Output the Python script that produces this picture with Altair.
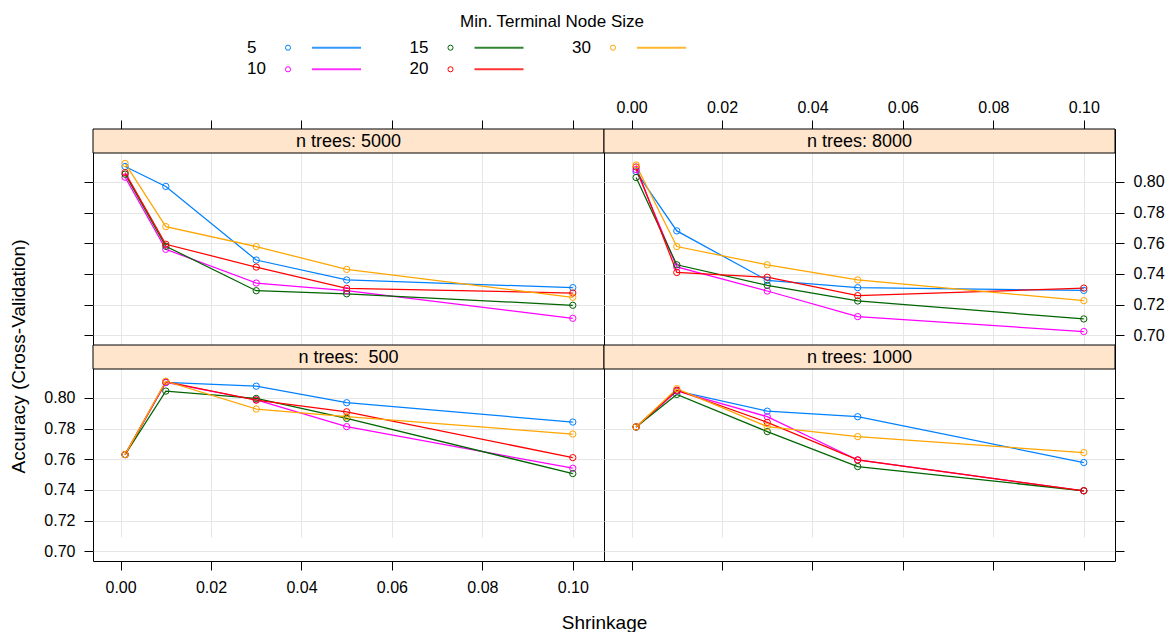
import altair as alt
import pandas as pd

# ---------------- data ----------------
shrinkage = [0.001, 0.01, 0.03, 0.05, 0.1]
node_sizes = [5, 10, 15, 20, 30]
colors = ["#0080ff", "#ff00ff", "#006400", "#ff0000", "#ffa500"]
panel_trees = [5000, 8000, 500, 1000]
strip_labels = ["n trees: 5000", "n trees: 8000", "n trees:\u00a0 500", "n trees: 1000"]

acc_5000 = {
    5: [0.810, 0.797, 0.749, 0.736, 0.731],
    10: [0.803, 0.756, 0.734, 0.729, 0.711],
    15: [0.805, 0.758, 0.729, 0.727, 0.7195],
    20: [0.806, 0.7593, 0.7444, 0.7305, 0.7275],
    30: [0.812, 0.7708, 0.7578, 0.7429, 0.7247],
}
acc_8000 = {
    5: [0.8067, 0.768, 0.7357, 0.731, 0.7292],
    10: [0.808, 0.7445, 0.7288, 0.7121, 0.7024],
    15: [0.8028, 0.7459, 0.7325, 0.7223, 0.7106],
    20: [0.8097, 0.7409, 0.7378, 0.7258, 0.7307],
    30: [0.811, 0.7578, 0.7459, 0.736, 0.7225],
}
acc_500 = {
    5: [0.763, 0.810, 0.8076, 0.7968, 0.7842],
    10: [0.763, 0.810, 0.7987, 0.7812, 0.7541],
    15: [0.763, 0.8044, 0.7996, 0.7866, 0.7506],
    20: [0.763, 0.8105, 0.7985, 0.7909, 0.761],
    30: [0.763, 0.8108, 0.7927, 0.7877, 0.7764],
}
acc_1000 = {
    5: [0.781, 0.8045, 0.7913, 0.7877, 0.7578],
    10: [0.781, 0.8045, 0.7877, 0.7595, 0.7394],
    15: [0.781, 0.8022, 0.778, 0.7552, 0.7394],
    20: [0.781, 0.805, 0.784, 0.7595, 0.7394],
    30: [0.781, 0.806, 0.7812, 0.7747, 0.7643],
}
x_ticks = [0.0, 0.02, 0.04, 0.06, 0.08, 0.10]
y_ticks = [0.70, 0.72, 0.74, 0.76, 0.78, 0.80]
legend_title = "Min. Terminal Node Size"
x_title = "Shrinkage"
y_title = "Accuracy (Cross-Validation)"

acc_by_panel = {5000: acc_5000, 8000: acc_8000, 500: acc_500, 1000: acc_1000}

rows = []
for n in panel_trees:
    for s in node_sizes:
        for xv, yv in zip(shrinkage, acc_by_panel[n][s]):
            rows.append({"ntrees": n, "size": s, "shrinkage": xv, "accuracy": yv})
df = pd.DataFrame(rows)

# ---------------- layout constants ----------------
W = 511
H = 216
STRIP = 24
FONT = "Liberation Sans"

color_enc = alt.Color("size:N", scale=alt.Scale(domain=node_sizes, range=colors), legend=None)


def make_panel(n, label, xorient, xlabels, yorient, ylabels, xtitle=False, ytitle=False):
    xaxis_kw = dict(orient=xorient, values=x_ticks, format=".2f", labels=xlabels,
                    labelPadding=5 if xorient == "top" else 9, title=None)
    if xtitle:
        xaxis_kw.update(title=x_title, titleX=W, titleY=61, titleBaseline="middle",
                        titleAlign="center", titleFontSize=19)
    yaxis_kw = dict(orient=yorient, values=y_ticks, format=".2f", labels=ylabels,
                    labelPadding=9, title=None)
    if ytitle:
        yaxis_kw.update(title=y_title, titleX=-75, titleY=11, titleBaseline="middle",
                        titleAlign="center", titleAngle=270, titleFontSize=19)

    x_enc = alt.X("shrinkage:Q",
                  scale=alt.Scale(domain=[-0.0061, 0.1069], nice=False, zero=False),
                  axis=alt.Axis(**xaxis_kw))
    y_enc = alt.Y("accuracy:Q",
                  scale=alt.Scale(domain=[0.6936, 0.8188], range=[H, STRIP], nice=False, zero=False),
                  axis=alt.Axis(**yaxis_kw))

    base = alt.Chart(df[df["ntrees"] == n])
    lines = base.mark_line(strokeWidth=1.25).encode(x=x_enc, y=y_enc, color=color_enc)
    points = base.mark_point(shape="circle", filled=False, size=40, strokeWidth=1, opacity=1).encode(
        x=x_enc, y=y_enc, color=color_enc)

    strip_df = pd.DataFrame({"label": [label]})
    strip_rect = alt.Chart(strip_df).mark_rect(fill="#ffe5cc", stroke="black", strokeWidth=1).encode(
        x=alt.value(0), x2=alt.value(W), y=alt.value(0), y2=alt.value(STRIP))
    strip_text = alt.Chart(strip_df).mark_text(font=FONT, fontSize=18, color="black", baseline="middle").encode(
        x=alt.value(W / 2), y=alt.value(STRIP / 2 + 1), text="label:N")
    return alt.layer(lines, points, strip_rect, strip_text)


# ---------------- custom lattice-style key ----------------
legend_df = pd.DataFrame({
    "size": node_sizes,
    "col": [i // 2 for i in range(len(node_sizes))],
    "row": [i % 2 for i in range(len(node_sizes))],
})
px_scale = alt.Scale(domain=[0, 1000], range=[0, 1000], nice=False, zero=False)
py_scale = alt.Scale(domain=[-200, 0], range=[-200, 0], nice=False, zero=False)
leg = alt.Chart(legend_df).transform_calculate(
    lx="154 + 162.5 * datum.col",
    px="195 + 162.5 * datum.col",
    rx1="219 + 162.5 * datum.col",
    rx2="268 + 162.5 * datum.col",
    ly="-81.3 + 21.6 * datum.row",
)
leg_text = leg.mark_text(font=FONT, fontSize=17, align="left", baseline="middle", color="black").encode(
    x=alt.X("lx:Q", scale=px_scale, axis=None), y=alt.Y("ly:Q", scale=py_scale, axis=None), text="size:N")
leg_pts = leg.mark_point(shape="circle", filled=False, size=26, strokeWidth=1, opacity=1).encode(
    x=alt.X("px:Q", scale=px_scale, axis=None), y=alt.Y("ly:Q", scale=py_scale, axis=None), color=color_enc)
leg_rules = leg.mark_rule(strokeWidth=2, opacity=0.8).encode(
    x=alt.X("rx1:Q", scale=px_scale, axis=None), x2="rx2:Q",
    y=alt.Y("ly:Q", scale=py_scale, axis=None), color=color_enc)
leg_title = alt.Chart(pd.DataFrame({"t": [legend_title]})).mark_text(
    font=FONT, fontSize=17, baseline="middle", color="black").encode(
    x=alt.value(459), y=alt.value(-107), text="t:N")
legend_layer = alt.layer(leg_text, leg_pts, leg_rules, leg_title)

p5000 = make_panel(5000, strip_labels[0], "top", False, "left", False)
p5000 = alt.layer(p5000, legend_layer).resolve_scale(x="independent", y="independent")
p8000 = make_panel(8000, strip_labels[1], "top", True, "right", True)
p500 = make_panel(500, strip_labels[2], "bottom", True, "left", True, xtitle=True, ytitle=True)
p1000 = make_panel(1000, strip_labels[3], "bottom", False, "right", False)

chart = alt.concat(
    p5000.properties(width=W, height=H),
    p8000.properties(width=W, height=H),
    p500.properties(width=W, height=H),
    p1000.properties(width=W, height=H),
    columns=2, spacing=0, bounds="flush",
).properties(
    padding={"left": 8, "top": 12, "right": 2, "bottom": 2},
    background="white",
).configure_view(
    stroke="black", strokeWidth=1
).configure_axis(
    labelFont=FONT, labelFontSize=16, labelColor="black",
    titleFont=FONT, titleColor="black", titleFontWeight="normal",
    tickColor="black", tickSize=9, tickWidth=1, domain=False,
    grid=True, gridColor="#e6e6e6", gridWidth=1,
)

chart.save("out.html", embed_options={"renderer": "svg", "actions": False})
